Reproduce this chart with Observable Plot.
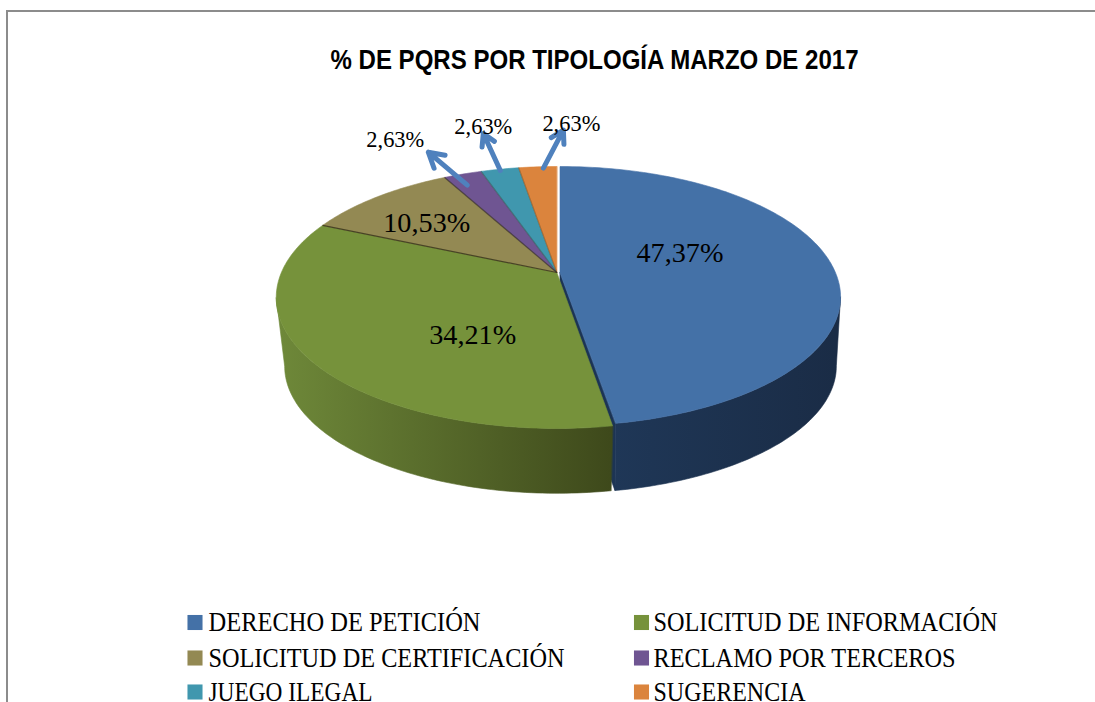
<!DOCTYPE html>
<html>
<head>
<meta charset="utf-8">
<script src="https://cdn.jsdelivr.net/npm/d3@7"></script>
<script src="https://cdn.jsdelivr.net/npm/@observablehq/plot@0.6"></script>
<style>
html,body{margin:0;padding:0;background:#fff;overflow:hidden}
svg{display:block}
</style>
</head>
<body>
<div id="chart"></div>
<script>
// ---- data ----
const titleText = "% DE PQRS POR TIPOLOGÍA MARZO DE 2017";
const categories = ["DERECHO DE PETICIÓN","SOLICITUD DE INFORMACIÓN","SOLICITUD DE CERTIFICACIÓN","RECLAMO POR TERCEROS","JUEGO ILEGAL","SUGERENCIA"];
const values = [47.37, 34.21, 10.53, 2.63, 2.63, 2.63];
const valueLabels = ["47,37%","34,21%","10,53%","2,63%","2,63%","2,63%"];
const colors = ["#4471A7","#76923B","#938953","#6F5592","#4097AE","#DB843D"];

// ---- layout of the tilted pie (perspective circle) ----
const W = 1095, H = 702;
const X0 = 556.3, Y0 = 272, A = 275.4, B = 126.2, K = 0.1908;
const BASE_Y = 341.5, BASE_S = [0.985, 0.97, 0.97, 0.97, 0.97, 0.97];
const EXPLODE = [[3.2,-2.5],[0,0],[0,0],[0,0],[0,0],[0,0]];
const rad = d => d * Math.PI / 180;
function project(theta, r, i, base) {
  const u = r * Math.sin(theta), v = r * Math.cos(theta);
  const den = 1 + K * v, s = base ? BASE_S[i] : 1;
  return {
    x: X0 + EXPLODE[i][0] + s * A * u / den,
    y: (base ? BASE_Y : Y0) + EXPLODE[i][1] * Math.max(0, -v) - s * B * v / den
  };
}
let acc = 0;
const total = d3.sum(values);
const slices = values.map((v, i) => {
  const a0 = acc / total * 2 * Math.PI; acc += v;
  const a1 = acc / total * 2 * Math.PI;
  return {i, a0, a1, mid: (a0 + a1) / 2};
});

// top faces
const topPts = slices.flatMap(s => {
  const n = Math.max(2, Math.ceil((s.a1 - s.a0) / rad(1)));
  const pts = [{...project(0, 0, s.i), id: s.i}];
  for (let k = 0; k <= n; k++) pts.push({...project(s.a0 + (s.a1 - s.a0) * k / n, 1, s.i), id: s.i});
  return pts.map(p => ({...p, color: colors[s.i]}));
});

// outer walls: from the left and right silhouette points round the front
const silhouette = Math.acos(-K);
function wallOutline(s) {
  const from = Math.max(s.a0, silhouette), to = Math.min(s.a1, 2 * Math.PI - silhouette);
  const n = Math.ceil((to - from) / rad(1));
  const upper = [], lower = [];
  for (let k = 0; k <= n; k++) {
    const t = from + (to - from) * k / n;
    upper.push(project(t, 1, s.i));
    lower.push(project(t, 1, s.i, true));
  }
  return upper.concat(lower.reverse());
}
const blueWall = wallOutline(slices[0]);
const greenWall = wallOutline(slices[1]);

function gradient(id, x1, x2, c1, c2) {
  return () => {
    const defs = d3.create("svg:defs");
    const g = defs.append("linearGradient").attr("id", id)
      .attr("gradientUnits", "userSpaceOnUse")
      .attr("x1", x1).attr("x2", x2).attr("y1", 0).attr("y2", 0);
    g.append("stop").attr("offset", 0).attr("stop-color", c1);
    g.append("stop").attr("offset", 1).attr("stop-color", c2);
    return defs.node();
  };
}

// inner wall of the pulled-out slice, visible in the gap
const innerPts = [
  project(0, 0, 0), project(slices[0].a1, 1, 0),
  project(slices[0].a1, 1, 0, true), project(0, 0, 0, true)
];

// separators between the slices
const sepOpacity = [0.75, 0.6, 0.35, 0.3];
const seps = slices.slice(2).map((s, k) => ({
  p0: project(0, 0, s.i), p1: project(s.a0, 1, s.i), o: sepOpacity[k]
}));

// labels on the big slices: radial fraction and vertical shift
const insideR = [0.44, 0.37, 0.70];
const insideShift = [-15, 33, 5];
const insideLabels = [0, 1, 2].map(i => {
  const p = project(slices[i].mid, insideR[i], i);
  return {x: p.x, y: p.y + insideShift[i], text: valueLabels[i]};
});

// leader arrows on the small slices
const tailR = [0.87, 1.02, 1.02];
const tailShift = [[-6,0],[1.5,3],[6,3]];
const headShift = [[-39,-33],[-17,-37],[20,-38]];
const labelShift = [[-33,-13],[0,-7],[8,-6]];
const arrows = [3, 4, 5].map((i, k) => {
  const p = project(slices[i].mid, tailR[k], i);
  const x1 = p.x + tailShift[k][0], y1 = p.y + tailShift[k][1];
  const x2 = x1 + headShift[k][0], y2 = y1 + headShift[k][1];
  return {x1, y1, x2, y2, lx: x2 + labelShift[k][0], ly: y2 + labelShift[k][1], text: valueLabels[i]};
});

// legend layout
const legendX = [194.5, 641], legendTextX = [208, 653], legendY = [622, 657.5, 691.5];
const legend = categories.map((c, i) => ({
  c, color: colors[i],
  sx: legendX[i % 2], tx: legendTextX[i % 2], y: legendY[Math.floor(i / 2)]
}));

const serif = "'Liberation Serif','DejaVu Serif',serif";
const poly = (data) => Plot.line(data, {x: "x", y: "y", z: "id", fill: "color", stroke: "color", strokeWidth: 0.6, curve: "linear-closed"});
const wall = (data, fill) => Plot.line(data, {x: "x", y: "y", fill, stroke: fill, strokeWidth: 0.6, curve: "linear-closed"});

const chart = Plot.plot({
  width: W, height: H,
  marginTop: 0, marginRight: 0, marginBottom: 0, marginLeft: 0,
  x: {domain: [0, W], range: [0, W], axis: null},
  y: {domain: [0, H], range: [0, H], axis: null},
  style: {background: "#fff"},
  marks: [
    gradient("greenSide", 280, 610, "#6E8839", "#3E491B"),
    gradient("blueSide", 612, 835, "#1F3757", "#1A2C46"),
    // frame of the chart area
    Plot.ruleY([10.5], {x1: 6, x2: W, stroke: "#8c8c8c", strokeWidth: 2}),
    Plot.ruleX([6.5], {y1: 10, y2: H, stroke: "#8c8c8c", strokeWidth: 2}),
    // title
    Plot.text([titleText], {x: () => 594, y: () => 60, text: d => d, fontSize: 28, fontWeight: "bold", fontFamily: "'Liberation Sans',Arial,sans-serif", fill: "#000", textAnchor: "middle"}),
    // pulled-out slice's walls, then the others
    Plot.line(innerPts, {x: "x", y: "y", fill: "#1C3454", stroke: "#1C3454", strokeWidth: 0.6, curve: "linear-closed"}),
    wall(blueWall, "url(#blueSide)"),
    wall(greenWall, "url(#greenSide)"),
    // top faces
    poly(topPts.filter(d => d.id !== 0)),
    Plot.link(seps, {x1: d => d.p0.x, y1: d => d.p0.y, x2: d => d.p1.x, y2: d => d.p1.y, stroke: "#2e2a14", strokeWidth: 1.2, strokeOpacity: d => d.o}),
    poly(topPts.filter(d => d.id === 0)),
    // values
    Plot.text(insideLabels, {x: "x", y: "y", text: "text", fontSize: 28, fontFamily: serif, fill: "#000"}),
    Plot.arrow(arrows, {x1: "x1", y1: "y1", x2: "x2", y2: "y2", stroke: "#4F81BD", strokeWidth: 5, headLength: 11, strokeLinecap: "round"}),
    Plot.text(arrows, {x: "lx", y: "ly", text: "text", fontSize: 23, fontFamily: serif, fill: "#000"}),
    // legend
    Plot.dot(legend, {x: "sx", y: "y", symbol: "square", r: 8.5, fill: "color"}),
    Plot.text(legend, {x: "tx", y: "y", text: "c", fontSize: 27, fontFamily: serif, fill: "#000", textAnchor: "start"})
  ]
});

// squeeze the substitute fonts to the reference's text widths
const textWidths = new Map([
  [titleText, 528], ["47,37%", 87], ["34,21%", 87], ["10,53%", 87], ["2,63%", 58],
  ["DERECHO DE PETICIÓN", 272], ["SOLICITUD DE INFORMACIÓN", 344],
  ["SOLICITUD DE CERTIFICACIÓN", 356], ["RECLAMO POR TERCEROS", 302],
  ["JUEGO ILEGAL", 164], ["SUGERENCIA", 152]
]);
d3.select(chart).selectAll("text").each(function () {
  const w = textWidths.get(this.textContent.trim());
  if (w) { this.setAttribute("textLength", w); this.setAttribute("lengthAdjust", "spacingAndGlyphs"); }
});
document.getElementById("chart").append(chart);
</script>
</body>
</html>
